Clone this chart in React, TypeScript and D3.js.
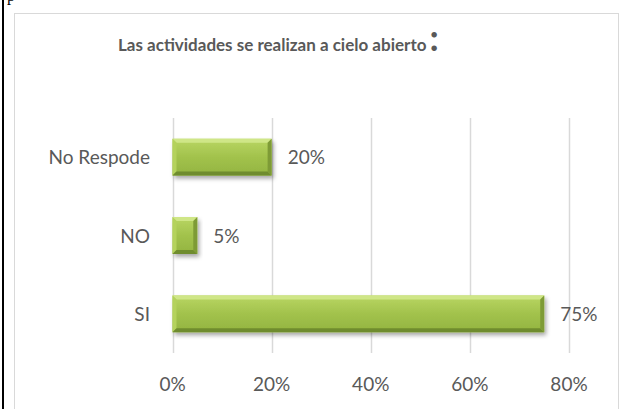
import React from "react";
import * as d3 from "d3";

const categories = ["No Respode", "NO", "SI"];
const values = [0.2, 0.05, 0.75];
const tickValues = [0, 0.2, 0.4, 0.6, 0.8];
const valueLabels = ["20%", "5%", "75%"];
const titleText = "Las actividades se realizan a cielo abierto";

const W = 625;
const H = 409;
const FONT = "Lato, 'Open Sans', sans-serif";
const TEXT = "#595959";

export default function App() {
  const x = d3.scaleLinear().domain([0, 0.8]).range([172.5, 569]);
  const y = d3
    .scaleBand<string>()
    .domain(categories)
    .range([118, 353])
    .paddingInner(0.53)
    .paddingOuter(0.265);
  const fmt = d3.format(".0%");
  const bv = 4;

  return (
    <svg
      width={W}
      height={H}
      style={{ position: "absolute", left: 0, top: 0, background: "#fff" }}
    >
      <defs>
        <linearGradient id="face" x1="0" y1="0" x2="0" y2="1">
          <stop offset="0" stopColor="#b9d663" />
          <stop offset="0.5" stopColor="#a2c24c" />
          <stop offset="1" stopColor="#93b440" />
        </linearGradient>
        <filter id="sh" x="-10%" y="-30%" width="130%" height="180%">
          <feDropShadow dx="2" dy="3" stdDeviation="2.2" floodColor="#000" floodOpacity="0.35" />
        </filter>
      </defs>
      <rect x={0} y={0} width={W} height={H} fill="#fff" />
      {/* page fragments */}
      <line x1={3} y1={0} x2={3} y2={H} stroke="#000" strokeWidth={2} />
      <text x={7} y={1} fontFamily="'Liberation Serif', serif" fontSize={16} fill="#000">
        p
      </text>
      {/* chart frame */}
      <rect x={14.5} y={13.5} width={604} height={H} fill="#fff" stroke="#d9d9d9" strokeWidth={1} />

      {/* title */}
      <text x={118} y={51} fontFamily={FONT} fontWeight="bold" fontSize={17} fill={TEXT}>
        <tspan>{titleText}</tspan>
        <tspan fontSize={36} dx={3}>:</tspan>
      </text>

      {/* gridlines */}
      {tickValues.map((t) => (
        <line
          key={"g" + t}
          x1={Math.round(x(t)) + 0.5}
          x2={Math.round(x(t)) + 0.5}
          y1={118}
          y2={353}
          stroke="#d9d9d9"
          strokeWidth={1.5}
        />
      ))}

      {/* tick labels */}
      {tickValues.map((t) => (
        <text
          key={"t" + t}
          x={x(t)}
          y={391}
          textAnchor="middle"
          fontFamily={FONT}
          fontSize={19}
          fill={TEXT}
        >
          {fmt(t)}
        </text>
      ))}

      {/* category labels */}
      {categories.map((c) => (
        <text
          key={"c" + c}
          x={150}
          y={(y(c) as number) + y.bandwidth() / 2 + 7}
          textAnchor="end"
          fontFamily={FONT}
          fontSize={19}
          fill={TEXT}
        >
          {c}
        </text>
      ))}

      {/* bars */}
      {categories.map((c, i) => {
        const x0 = x(0);
        const x1 = x(values[i]);
        const y0 = y(c) as number;
        const h = y.bandwidth();
        const y1 = y0 + h;
        return (
          <g key={"b" + c}>
            <rect x={x0} y={y0} width={x1 - x0} height={h} fill="url(#face)" filter="url(#sh)" />
            <polygon
              points={`${x0},${y0} ${x1},${y0} ${x1 - bv},${y0 + bv} ${x0 + bv},${y0 + bv}`}
              fill="#cfe687"
            />
            <polygon
              points={`${x0},${y0} ${x0 + bv},${y0 + bv} ${x0 + bv},${y1 - bv} ${x0},${y1}`}
              fill="#b4d25c"
            />
            <polygon
              points={`${x0},${y1} ${x0 + bv},${y1 - bv} ${x1 - bv},${y1 - bv} ${x1},${y1}`}
              fill="#6f8c2e"
            />
            <polygon
              points={`${x1},${y0} ${x1 - bv},${y0 + bv} ${x1 - bv},${y1 - bv} ${x1},${y1}`}
              fill="#7e9b36"
            />
            <text
              x={x1 + 16}
              y={y0 + h / 2 + 7}
              fontFamily={FONT}
              fontSize={19}
              fill={TEXT}
            >
              {valueLabels[i]}
            </text>
          </g>
        );
      })}
    </svg>
  );
}
